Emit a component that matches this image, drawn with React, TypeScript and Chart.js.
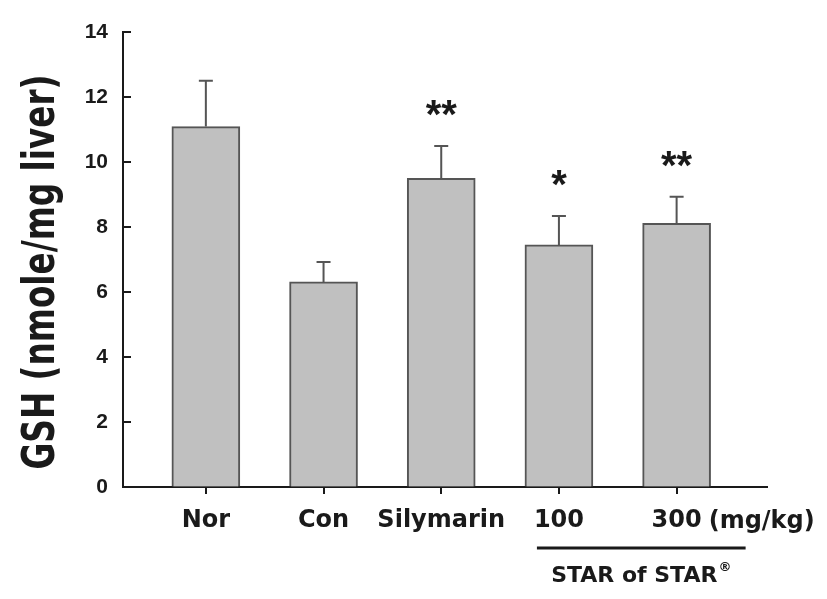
import React, { useEffect, useRef } from "react";
import { Chart, registerables } from "chart.js";

Chart.register(...registerables);

const categories = ["Nor", "Con", "Silymarin", "100", "300"];
const means = [11.09, 6.31, 9.5, 7.45, 8.11];
const errors = [1.41, 0.61, 0.99, 0.89, 0.82];
const stars = ["", "", "**", "*", "**"];
const yMin = 0;
const yMax = 14;
const yStep = 2;
const unitLabel = "(mg/kg)";
const groupLabel = "STAR of STAR";
const groupMark = "®";
const groupFrom = 3;
const groupTo = 4;
const yTitle = "GSH (nmole/mg liver)";

const INK = "#1a1a1a";
const LABEL_FONT = "'DejaVu Sans', sans-serif";

const annotations = {
  id: "annotations",
  afterDraw(chart: any) {
    const { ctx, chartArea, scales } = chart;
    const xs = scales.x;
    const ys = scales.y;
    ctx.save();
    // inward y ticks
    ctx.strokeStyle = INK;
    ctx.lineWidth = 2;
    for (let v = yMin; v <= yMax; v += yStep) {
      const y = Math.round(ys.getPixelForValue(v));
      ctx.beginPath();
      ctx.moveTo(chartArea.left, y);
      ctx.lineTo(chartArea.left + 8, y);
      ctx.stroke();
    }
    // error bars
    ctx.strokeStyle = "#555";
    ctx.lineWidth = 2;
    means.forEach((m, i) => {
      const x = xs.getPixelForValue(i);
      const y0 = ys.getPixelForValue(m);
      const y1 = ys.getPixelForValue(m + errors[i]);
      ctx.beginPath();
      ctx.moveTo(x, y0);
      ctx.lineTo(x, y1);
      ctx.moveTo(x - 7, y1);
      ctx.lineTo(x + 7, y1);
      ctx.stroke();
      if (stars[i]) {
        ctx.font = "bold 40px 'Liberation Sans', Arial, sans-serif";
        ctx.fillStyle = INK;
        ctx.textAlign = "center";
        ctx.textBaseline = "alphabetic";
        const mt = ctx.measureText(stars[i]);
        const cy = y1 - 38;
        const base = cy + (mt.actualBoundingBoxAscent - mt.actualBoundingBoxDescent) / 2;
        ctx.fillText(stars[i], x, base);
      }
    });
    // unit label after last tick label
    ctx.font = "bold 24px " + LABEL_FONT;
    ctx.fillStyle = INK;
    ctx.textBaseline = "alphabetic";
    ctx.textAlign = "left";
    const lastX = xs.getPixelForValue(categories.length - 1);
    const lastW = ctx.measureText(categories[categories.length - 1]).width;
    ctx.fillText(unitLabel, lastX + lastW / 2 + 7, 528);
    // group underline
    const gx0 = xs.getPixelForValue(groupFrom) - 22;
    const gx1 = xs.getPixelForValue(groupTo) + 69;
    ctx.strokeStyle = INK;
    ctx.lineWidth = 3;
    ctx.beginPath();
    ctx.moveTo(gx0, 548);
    ctx.lineTo(gx1, 548);
    ctx.stroke();
    // group label
    ctx.font = "bold 22px " + LABEL_FONT;
    const gw = ctx.measureText(groupLabel).width;
    ctx.font = "bold 13px " + LABEL_FONT;
    const mw = ctx.measureText(groupMark).width;
    const cx = (gx0 + gx1) / 2;
    const startX = cx - (gw + mw + 1) / 2;
    ctx.font = "bold 22px " + LABEL_FONT;
    ctx.fillText(groupLabel, startX, 582);
    ctx.font = "bold 13px " + LABEL_FONT;
    ctx.fillText(groupMark, startX + gw + 1, 571);
    // y title (condensed to the reference length)
    ctx.save();
    ctx.translate(54, 272);
    ctx.rotate(-Math.PI / 2);
    ctx.font = "bold 45px " + LABEL_FONT;
    const tw = ctx.measureText(yTitle).width;
    ctx.scale(395 / tw, 1);
    ctx.textAlign = "center";
    ctx.textBaseline = "alphabetic";
    ctx.fillStyle = INK;
    ctx.fillText(yTitle, 0, 0);
    ctx.restore();
    ctx.restore();
  },
};

export default function App() {
  const ref = useRef<HTMLCanvasElement | null>(null);
  useEffect(() => {
    if (!ref.current) return;
    const chart = new Chart(ref.current, {
      type: "bar",
      data: {
        datasets: [
          {
            data: means.map((m, i) => ({ x: i, y: m })),
            backgroundColor: "#c0c0c0",
            borderColor: "#555",
            borderWidth: 2,
            barThickness: 68,
          },
        ],
      },
      options: {
        animation: false,
        responsive: false,
        devicePixelRatio: 1,
        layout: { padding: { left: 0, top: 32, right: 60, bottom: 0 } },
        plugins: { legend: { display: false }, tooltip: { enabled: false } },
        scales: {
          x: {
            type: "linear",
            offset: false,
            min: -0.704,
            max: 4.768,
            afterBuildTicks: (s: any) => {
              s.ticks = categories.map((_, i) => ({ value: i }));
            },
            afterFit: (s: any) => {
              s.height = 112;
            },
            ticks: {
              callback: (v: any) => categories[Math.round(v)] ?? "",
              autoSkip: false,
              maxRotation: 0,
              padding: 12,
              color: INK,
              font: { family: LABEL_FONT, size: 24, weight: "bold" },
            },
            grid: { offset: false, drawOnChartArea: false, drawTicks: true, tickLength: 7, color: INK, lineWidth: 2 },
            border: { color: INK, width: 2 },
          },
          y: {
            min: yMin,
            max: yMax,
            afterFit: (s: any) => {
              s.width = 123;
            },
            ticks: {
              stepSize: yStep,
              padding: 15,
              color: INK,
              font: { family: "'Liberation Sans', Arial, sans-serif", size: 21, weight: "bold" },
            },
            grid: { drawOnChartArea: false, drawTicks: false },
            border: { color: INK, width: 2 },
          },
        },
      } as any,
      plugins: [annotations],
    });
    return () => chart.destroy();
  }, []);
  return (
    <div style={{ position: "absolute", left: 0, top: 0, width: 827, height: 599, background: "#fff" }}>
      <canvas ref={ref} width={827} height={599} />
    </div>
  );
}
